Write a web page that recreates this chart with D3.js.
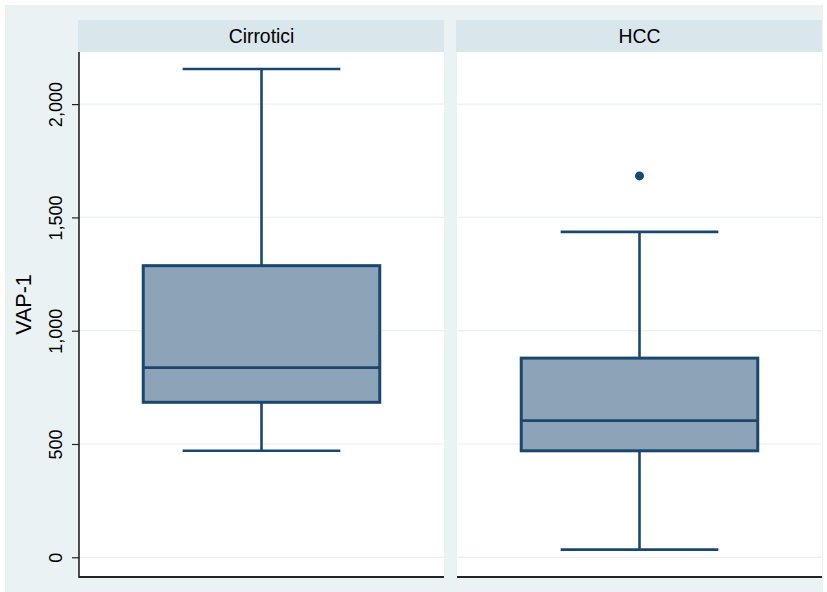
<!DOCTYPE html>
<html>
<head>
<meta charset="utf-8">
<script src="https://cdn.jsdelivr.net/npm/d3@7"></script>
<style>
  html, body { margin: 0; padding: 0; background: #ffffff; }
  svg { display: block; font-family: "Liberation Sans", Arial, sans-serif; }
</style>
</head>
<body>
<svg id="chart" width="827" height="592"></svg>
<script>
// Box-plot summaries of VAP-1 by group
const groups = ["Cirrotici", "HCC"];
const lowerWhisker = [470, 34];
const q1 = [684, 470];
const median = [837, 603];
const q3 = [1287, 879];
const upperWhisker = [2155, 1436];
const outliers = [[], [1683]];
const yTicks = [0, 500, 1000, 1500, 2000];
const yTitle = "VAP-1";

const svg = d3.select("#chart");

// outer background
svg.append("rect").attr("x", 5).attr("y", 5).attr("width", 818).attr("height", 587)
  .attr("fill", "#eaf2f3");

const plotTop = 52, plotBottom = 577, stripTop = 20;
const panels = [{x0: 79, x1: 444}, {x0: 457, x1: 822}];

const y = d3.scaleLinear().domain([-87, 2230]).range([plotBottom, plotTop]);

const boxColor = "#1a476f", fillColor = "#8ca3b8";
const fmt = d3.format(",");

panels.forEach((p, i) => {
  const g = svg.append("g");
  // strip header
  g.append("rect").attr("x", p.x0 - 1).attr("y", stripTop).attr("width", p.x1 - p.x0 + 1)
    .attr("height", plotTop - stripTop).attr("fill", "#d9e6eb");
  g.append("text").attr("x", (p.x0 + p.x1) / 2).attr("y", 43)
    .attr("text-anchor", "middle").attr("font-size", 19.4).attr("fill", "#000")
    .text(groups[i]);
  // plot region
  g.append("rect").attr("x", p.x0).attr("y", plotTop).attr("width", p.x1 - p.x0)
    .attr("height", plotBottom - plotTop).attr("fill", "#ffffff");
  // gridlines
  g.selectAll("line.grid").data(yTicks).join("line").attr("class", "grid")
    .attr("x1", p.x0).attr("x2", p.x1)
    .attr("y1", d => y(d)).attr("y2", d => y(d))
    .attr("stroke", "#eaf2f3").attr("stroke-width", 1.2);

  // box glyph
  const x = d3.scaleLinear().domain([0, 1]).range([p.x0, p.x1]);
  const cx = x(0.5);
  const boxHalf = (p.x1 - p.x0) * 0.324;
  const capHalf = (p.x1 - p.x0) * 0.216;
  const line = (x1, y1, x2, y2, w) => g.append("line")
    .attr("x1", x1).attr("y1", y1).attr("x2", x2).attr("y2", y2)
    .attr("stroke", boxColor).attr("stroke-width", w);

  line(cx, y(upperWhisker[i]), cx, y(q3[i]), 2.6);
  line(cx, y(q1[i]), cx, y(lowerWhisker[i]), 2.6);
  line(cx - capHalf, y(upperWhisker[i]), cx + capHalf, y(upperWhisker[i]), 2.6);
  line(cx - capHalf, y(lowerWhisker[i]), cx + capHalf, y(lowerWhisker[i]), 2.6);

  g.append("rect").attr("x", cx - boxHalf).attr("y", y(q3[i]))
    .attr("width", boxHalf * 2).attr("height", y(q1[i]) - y(q3[i]))
    .attr("fill", fillColor).attr("stroke", boxColor).attr("stroke-width", 3);
  line(cx - boxHalf, y(median[i]), cx + boxHalf, y(median[i]), 2.6);

  g.selectAll("circle.out").data(outliers[i]).join("circle").attr("class", "out")
    .attr("cx", cx).attr("cy", d => y(d)).attr("r", 4.5).attr("fill", boxColor);

  // bottom axis line
  g.append("line").attr("x1", p.x0).attr("x2", p.x1)
    .attr("y1", plotBottom).attr("y2", plotBottom)
    .attr("stroke", "#222").attr("stroke-width", 2);
});

// left y axis
const ax = svg.append("g").attr("transform", `translate(${panels[0].x0},0)`)
  .call(d3.axisLeft(y).tickValues(yTicks).tickSize(7).tickPadding(0).tickFormat(fmt));
ax.select(".domain").attr("stroke", "#222").attr("stroke-width", 1.6)
  .attr("d", `M0,${plotTop}V${plotBottom + 1}`);
ax.selectAll(".tick line").attr("stroke", "#222").attr("stroke-width", 1.2);
ax.selectAll(".tick text")
  .attr("font-size", 18).attr("fill", "#000")
  .attr("font-family", "Liberation Sans, Arial, sans-serif")
  .attr("transform", "translate(-17,0) rotate(-90)")
  .attr("x", 0).attr("y", 0).attr("dy", 0).attr("text-anchor", "middle");

svg.append("text")
  .attr("transform", `translate(31,304.5) rotate(-90)`)
  .attr("text-anchor", "middle").attr("font-size", 21.5).attr("fill", "#000")
  .text(yTitle);
</script>
</body>
</html>
